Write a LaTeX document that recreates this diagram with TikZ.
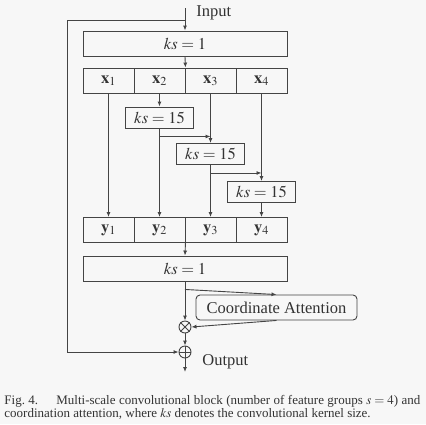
\documentclass[tikz,border=0pt]{standalone}
\usepackage{mathptmx}
\usepackage{fontspec}
\setmainfont{Liberation Serif}
\usetikzlibrary{arrows.meta,positioning,calc}
\definecolor{figbg}{RGB}{247,247,247}
\definecolor{figline}{RGB}{68,68,68}
\definecolor{figtext}{RGB}{51,51,51}

\begin{document}
\begin{tikzpicture}[x=1pt, y=-1pt, line width=0.9pt, draw=figline, text=figtext,
  arr/.style={-{Latex[length=5pt,width=4pt]}},
  wide/.style={draw, minimum width=204pt, minimum height=25pt, inner sep=0pt, font=\fontsize{16.5}{18}\selectfont},
  cell/.style={draw, minimum width=51pt, minimum height=25pt, inner sep=0pt, font=\fontsize{16.5}{18}\selectfont},
  conv/.style={draw, minimum width=68pt, minimum height=21pt, inner sep=0pt, font=\fontsize{16.5}{18}\selectfont},
  opnode/.style={draw, circle, minimum size=12pt, inner sep=0pt},
  lbl/.style={anchor=base west, inner sep=0pt, font=\fontsize{16.5}{18}\selectfont},
  captxt/.style={anchor=base west, inner sep=0pt, font=\fontsize{13}{14}\selectfont}]
  \fill[figbg] (0,0) rectangle (426,424);
  \useasboundingbox (0,0) rectangle (426,424);

  % Input
  \coordinate (in0) at (185,8);
  \coordinate (tap) at (185,20);
  \coordinate (loopL) at (67,20);
  \node[lbl] (inlbl) at (196,16) {Input};

  % First 1x1 convolution
  \node[wide] (ksA) at (185,43.5) {$ks = 1$};

  % Feature groups x and y
  \foreach \i in {1,...,4} {
    \node[cell] (x\i) at (57.5+51*\i,80.5) {$\mathbf{x}_\i$};
    \node[cell] (y\i) at (57.5+51*\i,230) {$\mathbf{y}_\i$};
  }

  % Depthwise convolutions
  \node[conv] (k2) at (159.5,117.5) {$ks = 15$};
  \node[conv] (k3) at (210.5,154) {$ks = 15$};
  \node[conv] (k4) at (261.5,192) {$ks = 15$};

  % Second 1x1 convolution
  \node[wide] (ksB) at (185,268.5) {$ks = 1$};

  % Coordinate attention
  \node[draw, rounded corners=4pt, minimum width=161pt, minimum height=25pt, inner sep=0pt, font=\fontsize{16.5}{18}\selectfont] (ca) at (276.5,307.5) {Coordinate Attention};

  % Multiply and add
  \node[opnode] (mul) at (185,327) {};
  \draw (mul.north west) -- (mul.south east) (mul.north east) -- (mul.south west);
  \node[opnode] (add) at (185,352) {};
  \draw (add.north) -- (add.south) (add.west) -- (add.east);
  \node[lbl] (outlbl) at (202,365) {Output};
  \coordinate (out0) at (185,372);

  % Connectors
  \draw[arr] (in0) -- (ksA.north);
  \draw[arr] (tap) -- (loopL) |- (add.west);
  \draw[arr] (ksA.south) -- (x2.north east);
  \draw[arr] (x1.south) -- (y1.north);
  \draw[arr] (x2.south) -- (k2.north);
  \draw[arr] (k2.south) -- (y2.north);
  \draw[arr] (x3.south) -- (k3.north);
  \draw[arr] (k3.south) -- (y3.north);
  \draw[arr] (x4.south) -- (k4.north);
  \draw[arr] (k4.south) -- (y4.north);
  \coordinate (b2) at ($(k2.south)+(0,8)$);
  \coordinate (b3) at ($(k3.south)+(0,8)$);
  \draw[arr] (b2) -- (b2 -| x3.south);
  \draw[arr] (b3) -- (b3 -| x4.south);
  \draw[arr] (y2.south east) -- (ksB.north);
  \draw[arr] (ksB.south) -- (mul.north);
  \coordinate (tapca) at ($(ksB.south)+(0,8)$);
  \draw[arr] (tapca) -- (ca.north);
  \draw[arr] (ca.south) -- (mul.east);
  \draw[arr] (mul.south) -- (add.north);
  \draw[arr] (add.south) -- (out0);

  % Caption
  \node[captxt] (cap1) at (4,404) {\makebox[416pt][s]{Fig.~4.\hspace{1.4em}Multi-scale convolutional block (number of feature groups $s = 4$) and}};
  \node[captxt] (cap2) at (4,417) {coordination attention, where $ks$ denotes the convolutional kernel size.};
\end{tikzpicture}
\end{document}
